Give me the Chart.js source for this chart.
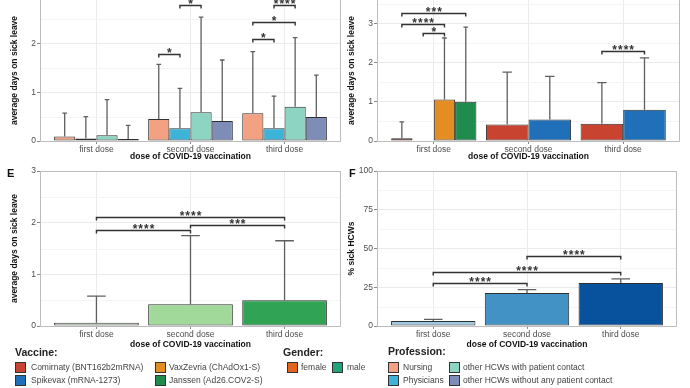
<!DOCTYPE html>
<html>
<head>
<meta charset="utf-8">
<script src="https://cdn.jsdelivr.net/npm/chart.js@4.4.1/dist/chart.umd.min.js"></script>
<style>
	body { margin:0; background:#fff; width:690px; height:388px; overflow:hidden; position:relative; font-family:'Liberation Sans', Arial, sans-serif; }
	canvas { position:absolute; }
	.tag { position:absolute; font-weight:bold; font-size:11px; line-height:12px; color:#111; }
	.lt { position:absolute; font-weight:bold; font-size:10.5px; line-height:13px; color:#222; }
	.key { position:absolute; width:9px; height:9px; border:1px solid #333; }
	.kl { position:absolute; font-size:8.5px; line-height:11px; color:#444; white-space:nowrap; }
</style>
</head>
<body>
<canvas id="chartC" width="345" height="162" style="left:0;top:0"></canvas>
<canvas id="chartD" width="345" height="162" style="left:345px;top:0"></canvas>
<canvas id="chartE" width="345" height="188" style="left:0;top:162px"></canvas>
<canvas id="chartF" width="345" height="188" style="left:345px;top:162px"></canvas>

<div class="tag" style="left:7px;top:167px">E</div>
<div class="tag" style="left:349px;top:167px">F</div>

<!-- legends -->
<div class="lt" style="left:15px;top:346px">Vaccine:</div>
<div class="key" style="left:15px;top:362px;background:#C84330"></div>
<div class="kl" style="left:31px;top:362px">Comirnaty (BNT162b2mRNA)</div>
<div class="key" style="left:15px;top:375px;background:#1F70B8"></div>
<div class="kl" style="left:31px;top:375px">Spikevax (mRNA-1273)</div>
<div class="key" style="left:155px;top:362px;background:#E38D22"></div>
<div class="kl" style="left:169px;top:362px">VaxZevria (ChAdOx1-S)</div>
<div class="key" style="left:155px;top:375px;background:#1F8B4C"></div>
<div class="kl" style="left:169px;top:375px">Janssen (Ad26.COV2-S)</div>

<div class="lt" style="left:283px;top:346px">Gender:</div>
<div class="key" style="left:287px;top:362px;background:#E3651D"></div>
<div class="kl" style="left:301px;top:362px">female</div>
<div class="key" style="left:332px;top:362px;background:#23A37C"></div>
<div class="kl" style="left:347px;top:362px">male</div>

<div class="lt" style="left:388px;top:345px">Profession:</div>
<div class="key" style="left:388px;top:362px;background:#F4A083"></div>
<div class="kl" style="left:403px;top:362px">Nursing</div>
<div class="key" style="left:388px;top:375px;background:#3DB4D7"></div>
<div class="kl" style="left:403px;top:375px">Physicians</div>
<div class="key" style="left:449px;top:362px;background:#8ED4C3"></div>
<div class="kl" style="left:463px;top:362px">other HCWs with patient contact</div>
<div class="key" style="left:449px;top:375px;background:#7E8CB8"></div>
<div class="kl" style="left:463px;top:375px">other HCWs without any patient contact</div>

<script>
'use strict';

// dose categories, shared by all panels
var doses = ["first dose", "second dose", "third dose"];

// panel C : average days on sick leave per profession (bar = mean, upper = whisker end)
var nursing        = [0.09, 0.45, 0.57];
var nursingUpper   = [0.57, 1.57, 1.83];
var physicians     = [0.05, 0.26, 0.26];
var physiciansUpper = [0.50, 1.08, 0.92];
var withContact    = [0.12, 0.59, 0.70];
var withContactUpper = [0.85, 2.54, 2.12];
var noContact      = [0.04, 0.41, 0.49];
var noContactUpper = [0.32, 1.66, 1.35];
var yTicksC = [0, 1, 2];

// panel D : per vaccine (null = vaccine not given at that dose)
var comirnaty      = [0.07, 0.42, 0.44];
var comirnatyUpper = [0.49, 1.76, 1.49];
var spikevax       = [0, 0.55, 0.80];
var spikevaxUpper  = [null, 1.65, 2.12];
var vaxzevria      = [1.06, null, null];
var vaxzevriaUpper = [2.63, null, null];
var janssen        = [1.00, null, null];
var janssenUpper   = [2.91, null, null];
var yTicksD = [0, 1, 2, 3];

// panel E : all HCWs, days on sick leave
var allDays      = [0.065, 0.42, 0.50];
var allDaysUpper = [0.58, 1.75, 1.65];
var yTicksE = [0, 1, 2, 3];

// panel F : % of sick HCWs
var sickShare      = [3.3, 21.3, 27.8];
var sickShareUpper = [4.3, 23.5, 30.4];
var yTicksF = [0, 25, 50, 75, 100];

// significance brackets : from/to = [dataset, dose], y = bracket height
var bracketsC = [
	{from: [0, 1], to: [1, 1], y: 1.78, label: "*"},
	{from: [1, 1], to: [2, 1], y: 2.79, label: "*"},
	{from: [0, 2], to: [1, 2], y: 2.10, label: "*"},
	{from: [0, 2], to: [2, 2], y: 2.43, label: "*"},
	{from: [1, 2], to: [2, 2], y: 2.79, label: "****"}
];
var bracketsD = [
	{from: [1, 0], to: [2, 0], y: 2.76, label: "*"},
	{from: [0, 0], to: [2, 0], y: 3.00, label: "****"},
	{from: [0, 0], to: [3, 0], y: 3.26, label: "***"},
	{from: [0, 2], to: [1, 2], y: 2.29, label: "****"}
];
var bracketsE = [
	{from: [0, 0], to: [0, 1], y: 1.85, label: "****"},
	{from: [0, 1], to: [0, 2], y: 1.95, label: "***"},
	{from: [0, 0], to: [0, 2], y: 2.10, label: "****"}
];
var bracketsF = [
	{from: [0, 0], to: [0, 1], y: 27.8, label: "****"},
	{from: [0, 0], to: [0, 2], y: 34.8, label: "****"},
	{from: [0, 1], to: [0, 2], y: 45.2, label: "****"}
];

(function(){

	Chart.defaults.font.family = "'Liberation Sans', Arial, sans-serif";

	// one bar series on the dose axis (dose n sits at x = n)
	var series = function(values, color){
		return {
			data : values.map(function(v, i){ return {x: i + 1, y: v}; }),
			backgroundColor : color,
			borderColor : "#2f2f2f",
			borderWidth : 1,
			borderSkipped : false,
			categoryPercentage : 0.9,
			barPercentage : 1.0,
			skipNull : true
		};
	};

	// minor grid, error whiskers, brackets and panel frame
	var extras = function(upper, brackets, topEdge){
		return {
			id : "extras",
			beforeDatasetsDraw : function(chart){
				var ctx = chart.ctx, area = chart.chartArea, ys = chart.scales.y;
				var t = ys.ticks, step = t[1].value - t[0].value;
				ctx.save();
				ctx.strokeStyle = "#F4F4F4";
				ctx.lineWidth = 1;
				for (var v = t[0].value + step / 2; v < ys.max; v += step) {
					var py = Math.round(ys.getPixelForValue(v)) + 0.5;
					ctx.beginPath(); ctx.moveTo(area.left, py); ctx.lineTo(area.right, py); ctx.stroke();
				}
				ctx.restore();
			},
			afterDatasetsDraw : function(chart){
				var ctx = chart.ctx, area = chart.chartArea, ys = chart.scales.y;
				ctx.save();
				// whiskers
				ctx.strokeStyle = "#5f5f5f";
				ctx.lineWidth = 1.3;
				upper.forEach(function(list, d){
					var bars = chart.getDatasetMeta(d).data;
					list.forEach(function(u, i){
						if (u === null || !bars[i]) return;
						var b = bars[i], top = ys.getPixelForValue(u), half = b.width * 0.11;
						ctx.beginPath();
						ctx.moveTo(b.x, b.y); ctx.lineTo(b.x, top);
						ctx.moveTo(b.x - half, top); ctx.lineTo(b.x + half, top);
						ctx.stroke();
					});
				});
				// brackets
				ctx.strokeStyle = "#333";
				ctx.fillStyle = "#333";
				ctx.lineWidth = 1.4;
				ctx.font = "bold 12px 'Liberation Sans', Arial, sans-serif";
				ctx.textAlign = "center";
				ctx.textBaseline = "alphabetic";
				ctx.letterSpacing = "1px";
				brackets.forEach(function(br){
					var x1 = chart.getDatasetMeta(br.from[0]).data[br.from[1]].x;
					var x2 = chart.getDatasetMeta(br.to[0]).data[br.to[1]].x;
					var py = Math.round(ys.getPixelForValue(br.y)) + 0.5;
					ctx.beginPath();
					ctx.moveTo(x1, py + 3); ctx.lineTo(x1, py); ctx.lineTo(x2, py); ctx.lineTo(x2, py + 3);
					ctx.stroke();
					ctx.fillText(br.label, (x1 + x2) / 2 + 0.5, py + 2);
				});
				// frame
				ctx.strokeStyle = "#BDBDBD";
				ctx.lineWidth = 1;
				var l = Math.round(area.left) + 0.5, r = Math.round(area.right) - 0.5;
				var tp = Math.round(area.top) + 0.5, bt = Math.round(area.bottom) + 0.5;
				ctx.beginPath();
				if (topEdge) {
					ctx.moveTo(l, bt); ctx.lineTo(l, tp); ctx.lineTo(r, tp); ctx.lineTo(r, bt); ctx.lineTo(l, bt);
				} else {
					ctx.moveTo(l, 0); ctx.lineTo(l, bt); ctx.lineTo(r, bt); ctx.lineTo(r, 0);
				}
				ctx.stroke();
				ctx.restore();
			}
		};
	};

	var panel_options = function(o){
		return {
			responsive : false,
			animation : false,
			layout : { padding : o.pad },
			plugins : { legend : { display : false }, tooltip : { enabled : false } },
			scales : {
				x : {
					type : "linear", min : 0.4, max : 3.6, offset : false, bounds : "data",
					afterBuildTicks : function(s){ s.ticks = doses.map(function(d, i){ return {value: i + 1}; }); },
					afterFit : function(s){ s.height = o.xAxisH; s.paddingLeft = 0; s.paddingRight = 0; },
					grid : { color : "#EBEBEB", tickColor : "#8a8a8a", tickLength : 3, offset : false },
					border : { display : false },
					ticks : {
						color : "#4D4D4D", font : { size : 8.5 }, padding : 1,
						autoSkip : false, maxRotation : 0,
						callback : function(v){ return doses[v - 1]; }
					},
					title : {
						display : true, text : "dose of COVID-19 vaccination", color : "#111",
						font : { size : 8.5, weight : "bold" }, padding : { top : 0, bottom : 0 }
					}
				},
				y : {
					min : 0, max : o.ymax, bounds : "data",
					afterBuildTicks : function(s){ s.ticks = o.yTicks.map(function(v){ return {value: v}; }); },
					afterFit : function(s){ s.width = o.axisW; s.paddingTop = 0; s.paddingBottom = 0; },
					grid : { color : "#EBEBEB", tickColor : "#8a8a8a", tickLength : 3 },
					border : { display : false },
					ticks : { color : "#4D4D4D", font : { size : 8.5 }, padding : 1 },
					title : {
						display : true, text : o.yTitle, color : "#111",
						font : { size : 8.5, weight : "bold" }, padding : { top : o.titlePad, bottom : 0 }
					}
				}
			}
		};
	};

	// C : profession
	new Chart(document.getElementById("chartC"), {
		type : "bar",
		data : { datasets : [
			series(nursing, "#F4A083"),
			series(physicians, "#3DB4D7"),
			series(withContact, "#8ED4C3"),
			series(noContact, "#7E8CB8")
		]},
		options : panel_options({ ymax : 2.89, yTicks : yTicksC, yTitle : "average days on sick leave",
			axisW : 40, titlePad : 10, xAxisH : 21, pad : { left : 0, right : 4, top : 0, bottom : 0 } }),
		plugins : [ extras([nursingUpper, physiciansUpper, withContactUpper, noContactUpper], bracketsC, false) ]
	});

	// D : vaccine
	new Chart(document.getElementById("chartD"), {
		type : "bar",
		data : { datasets : [
			series(comirnaty, "#C84330"),
			series(spikevax, "#1F70B8"),
			series(vaxzevria, "#E38D22"),
			series(janssen, "#1F8B4C")
		]},
		options : panel_options({ ymax : 3.6, yTicks : yTicksD, yTitle : "average days on sick leave",
			axisW : 32, titlePad : 2, xAxisH : 21, pad : { left : 0, right : 10, top : 0, bottom : 0 } }),
		plugins : [ extras([comirnatyUpper, spikevaxUpper, vaxzevriaUpper, janssenUpper], bracketsD, false) ]
	});

	// E : all HCWs
	var dataE = series(allDays, "#E5F5E0");
	dataE.backgroundColor = ["#E5F5E0", "#A1D99B", "#31A354"];
	new Chart(document.getElementById("chartE"), {
		type : "bar",
		data : { datasets : [ dataE ] },
		options : panel_options({ ymax : 3, yTicks : yTicksE, yTitle : "average days on sick leave",
			axisW : 40, titlePad : 10, xAxisH : 24, pad : { left : 0, right : 4, top : 9, bottom : 0 } }),
		plugins : [ extras([allDaysUpper], bracketsE, true) ]
	});

	// F : share of sick HCWs
	var dataF = series(sickShare, "#9ECAE1");
	dataF.backgroundColor = ["#9ECAE1", "#4292C6", "#08519C"];
	new Chart(document.getElementById("chartF"), {
		type : "bar",
		data : { datasets : [ dataF ] },
		options : panel_options({ ymax : 100, yTicks : yTicksF, yTitle : "% sick HCWs",
			axisW : 32, titlePad : 2, xAxisH : 24, pad : { left : 0, right : 13, top : 9, bottom : 0 } }),
		plugins : [ extras([sickShareUpper], bracketsF, true) ]
	});

})();
</script>
</body>
</html>
